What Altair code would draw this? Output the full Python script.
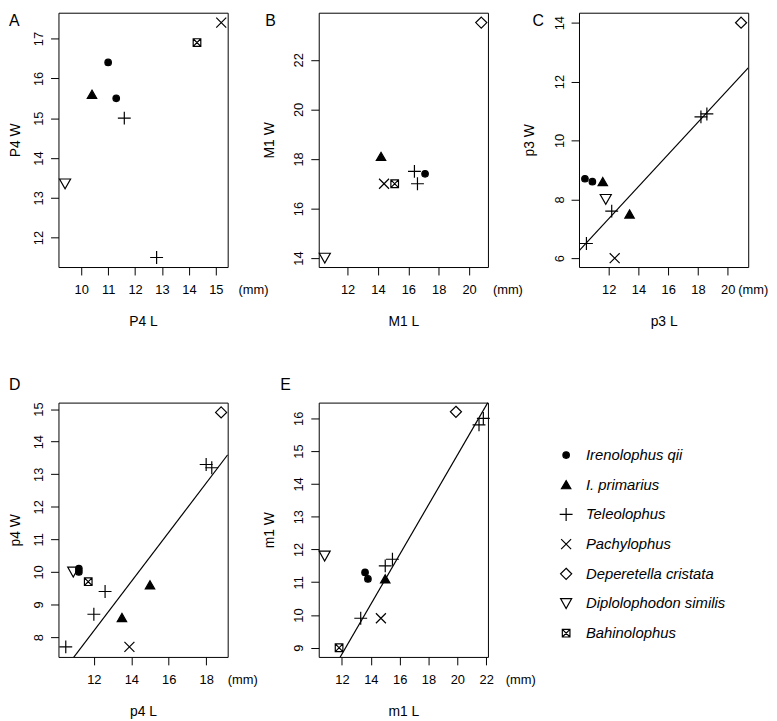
import altair as alt
import pandas as pd

FONT = "Liberation Sans"

species = ["Irenolophus qii", "I. primarius", "Teleolophus", "Pachylophus",
           "Deperetella cristata", "Diplolophodon similis", "Bahinolophus"]
codes = ["Q", "P", "T", "X", "D", "S", "B"]
name_of = dict(zip(codes, species))

# ---- panel data (L, W in mm) ----
a_sp = ["Q", "Q", "P", "T", "T", "X", "B", "S"]
a_x = [11.0, 11.3, 10.4, 11.6, 12.8, 15.2, 14.3, 9.4]
a_y = [16.4, 15.5, 15.6, 15.0, 11.5, 17.4, 16.9, 13.35]

b_sp = ["D", "P", "X", "B", "T", "T", "Q", "S"]
b_x = [20.8, 14.2, 14.4, 15.1, 16.4, 16.6, 17.1, 10.5]
b_y = [23.5, 18.1, 17.0, 17.0, 17.5, 17.0, 17.4, 14.0]

c_sp = ["D", "Q", "Q", "P", "P", "S", "T", "T", "T", "T", "X"]
c_x = [20.9, 10.4, 10.9, 11.6, 13.4, 11.8, 12.2, 10.5, 18.2, 18.6, 12.4]
c_y = [14.0, 8.7, 8.6, 8.6, 7.5, 8.0, 7.6, 6.5, 10.8, 10.9, 6.0]

d_sp = ["D", "T", "T", "T", "T", "T", "Q", "Q", "S", "B", "P", "P", "X"]
d_x = [18.8, 18.0, 18.3, 12.6, 12.0, 10.5, 11.2, 11.2, 10.9, 11.7, 15.0, 13.5, 13.9]
d_y = [14.9, 13.3, 13.2, 9.4, 8.7, 7.7, 10.1, 10.0, 10.0, 9.7, 9.6, 8.6, 7.7]

e_sp = ["D", "T", "T", "T", "T", "T", "Q", "Q", "P", "X", "S", "B"]
e_x = [19.9, 21.5, 21.8, 15.0, 15.5, 13.3, 13.6, 13.8, 15.0, 14.7, 10.8, 11.8]
e_y = [16.2, 15.8, 16.0, 11.5, 11.7, 9.9, 11.3, 11.1, 11.1, 9.9, 11.8, 9.0]

# regression lines (intercept, slope)
c_fit = (0.79, 0.546)
d_fit = (-0.88, 0.756)
e_fit = (-0.30, 0.759)

# axis domains and tick values
a_xdom, a_ydom = [9.155, 15.44], [11.26, 17.65]
b_xdom, b_ydom = [10.1, 21.24], [13.64, 23.9]
c_xdom, c_ydom = [10.0, 21.38], [5.7, 14.34]
d_xdom, d_ydom = [10.11, 19.15], [7.39, 15.2]
e_xdom, e_ydom = [10.39, 22.12], [8.72, 16.48]

a_xt, a_yt = [10, 11, 12, 13, 14, 15], [12, 13, 14, 15, 16, 17]
b_xt, b_yt = [12, 14, 16, 18, 20], [14, 16, 18, 20, 22]
c_xt, c_yt = [12, 14, 16, 18, 20], [6, 8, 10, 12, 14]
d_xt, d_yt = [12, 14, 16, 18], [8, 9, 10, 11, 12, 13, 14, 15]
e_xt, e_yt = [12, 14, 16, 18, 20, 22], [9, 10, 11, 12, 13, 14, 15, 16]

# ---- symbols (custom paths, all drawn at the same symbol size) ----
shape_paths = [
    "M0.47,0A0.47,0.47,0,1,1,-0.47,0A0.47,0.47,0,1,1,0.47,0Z",
    "M0,-0.6L0.68,0.58L-0.68,0.58Z",
    "M-0.93,0H0.93M0,-0.93V0.93",
    "M-0.72,-0.72L0.72,0.72M-0.72,0.72L0.72,-0.72",
    "M0,-0.8L0.8,0L0,0.8L-0.8,0Z",
    "M-0.8,-0.7L0.8,-0.7L0,0.72Z",
    "M-0.55,-0.55H0.55V0.55H-0.55ZM-0.55,-0.55L0.55,0.55M-0.55,0.55L0.55,-0.55",
]
fills = ["black", "black", "transparent", "transparent", "transparent",
         "transparent", "transparent"]

W, H = 171, 257
SYM = 196


def sym_enc():
    return dict(
        shape=alt.Shape("sp:N", scale=alt.Scale(domain=species, range=shape_paths), legend=None),
        fill=alt.Fill("sp:N", scale=alt.Scale(domain=species, range=fills), legend=None),
    )


def panel(letter, sp, xs, ys, xdom, ydom, xt, yt, xtitle, ytitle, mm_dx, letter_dx,
          letter_dy, ytitle_x, fit=None):
    df = pd.DataFrame({"sp": [name_of[s] for s in sp], "x": xs, "y": ys})
    xenc = alt.X("x:Q", scale=alt.Scale(domain=xdom, zero=False, nice=False),
                 axis=alt.Axis(values=xt, tickCount=len(xt), title=xtitle, format="d",
                               labelOverlap=False, labelFlush=False))
    yenc = alt.Y("y:Q", scale=alt.Scale(domain=ydom, zero=False, nice=False),
                 axis=alt.Axis(values=yt, tickCount=len(yt), title=ytitle, format="d",
                               titleX=ytitle_x, labelOverlap=False, labelFlush=False))
    pts = alt.Chart(df).mark_point(filled=True, stroke="black", strokeWidth=1.2,
                                   opacity=1, size=SYM).encode(x=xenc, y=yenc, **sym_enc())
    layers = []
    if fit is not None:
        a, b = fit
        ldf = pd.DataFrame({"x": xdom, "y": [a + b * v for v in xdom]})
        line = alt.Chart(ldf).mark_line(color="black", strokeWidth=1.2, clip=True).encode(
            x="x:Q", y="y:Q")
        layers.append(line)
    layers.append(pts)
    mm = alt.Chart(pd.DataFrame({"t": ["(mm)"]})).mark_text(
        font=FONT, fontSize=13, align="left", baseline="top", color="black"
    ).encode(text="t:N", x=alt.value(W + mm_dx), y=alt.value(H + 17))
    lab = alt.Chart(pd.DataFrame({"t": [letter]})).mark_text(
        font=FONT, fontSize=16, align="left", baseline="top", color="black"
    ).encode(text="t:N", x=alt.value(letter_dx), y=alt.value(letter_dy))
    layers += [mm, lab]
    return alt.layer(*layers).properties(width=W, height=H)


A = panel("A", a_sp, a_x, a_y, a_xdom, a_ydom, a_xt, a_yt, "P4 L", "P4 W", 11, -50, 0, -43)
B = panel("B", b_sp, b_x, b_y, b_xdom, b_ydom, b_xt, b_yt, "M1 L", "M1 W", 5, -54, 0, -49.5)
C = panel("C", c_sp, c_x, c_y, c_xdom, c_ydom, c_xt, c_yt, "p3 L", "p3 W", -10, -47, 0, -49.5,
          fit=c_fit)
D = panel("D", d_sp, d_x, d_y, d_xdom, d_ydom, d_xt, d_yt, "p4 L", "p4 W", 0, -50, -26, -43,
          fit=d_fit)
E = panel("E", e_sp, e_x, e_y, e_xdom, e_ydom, e_xt, e_yt, "m1 L", "m1 W", 18, -39, -26, -49.5,
          fit=e_fit)

# ---- legend panel ----
leg_df = pd.DataFrame({"sp": species})
leg_y = alt.Y("sp:N", sort=species, scale=alt.Scale(type="point", domain=species,
                                                    range=[53, 233], padding=0), axis=None)
leg_sym = alt.Chart(leg_df).mark_point(filled=True, stroke="black", strokeWidth=1.2,
                                       opacity=1, size=SYM).encode(
    x=alt.value(-13), y=leg_y, **sym_enc())
leg_txt = alt.Chart(leg_df).mark_text(font=FONT, fontSize=15, fontStyle="italic",
                                      align="left", baseline="middle", color="black").encode(
    x=alt.value(7), y=leg_y, text="sp:N")
L = alt.layer(leg_sym, leg_txt).properties(width=W, height=H,
                                           view=alt.ViewBackground(stroke="transparent"))

chart = alt.concat(A, B, C, D, E, L, columns=3, spacing={"row": 137, "column": 92},
                   bounds="flush").configure_view(
    stroke="black", strokeWidth=1
).configure_axis(
    labelFont=FONT, titleFont=FONT, labelFontSize=13, titleFontSize=14,
    titleFontWeight="normal", labelColor="black", titleColor="black",
    tickColor="black", tickSize=8, tickWidth=1, domain=False, grid=False,
    labelFlush=False, labelOverlap=False
).configure_axisX(
    labelPadding=9, titleY=55, titleX=W / 2, titleBaseline="middle"
).configure_axisY(
    labelPadding=8, labelAngle=270, labelAlign="center", labelBaseline="alphabetic",
    titleY=H / 2, titleBaseline="middle", titleAngle=270
).properties(padding=0, background="white")

chart.save("out.html", embed_options={"renderer": "svg", "actions": False})
